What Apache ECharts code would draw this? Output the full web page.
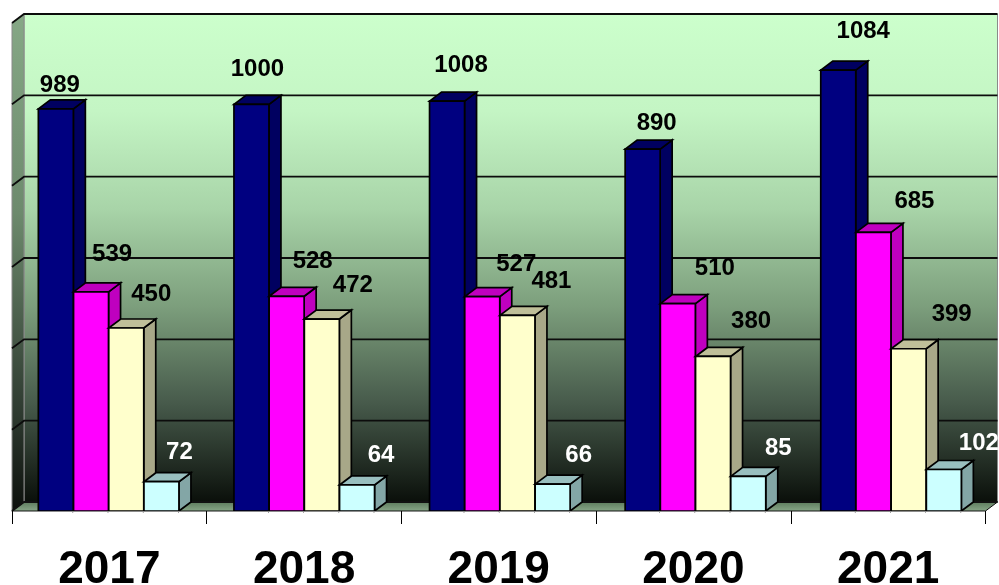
<!DOCTYPE html>
<html>
<head>
<meta charset="utf-8">
<style>html,body{margin:0;padding:0;background:#fff}#c{width:999px;height:585px}</style>
<script src="https://cdn.jsdelivr.net/npm/echarts@6/dist/echarts.min.js"></script>
</head>
<body>
<div id="c"></div>
<script>
const years = ['2017', '2018', '2019', '2020', '2021'];
const seriesA = [989, 1000, 1008, 890, 1084];
const seriesB = [539, 528, 527, 510, 685];
const seriesC = [450, 472, 481, 380, 399];
const seriesD = [72, 64, 66, 85, 102];
const gridTicks = [0, 200, 400, 600, 800, 1000, 1200];

// Hand-placed label shifts from each column's top centre, per series then per year.
const labelShiftA = [[4, -23], [6, -35], [14, -36], [14, -26], [25, -39]];
const labelShiftB = [[21, -37], [26, -35], [34, -32], [37, -35], [41, -31]];
const labelShiftC = [[25, -34], [31, -34], [34, -34], [38, -35], [43, -34]];
const labelShiftD = [[18, -29], [24, -30], [26, -29], [30, -28], [35, -26]];

const DX = 12, DY = -9;          // depth of the 3D extrusion
const BAR_W = 35;
const SLOT_W = 35.2;
const GROUP_LEFT = 71;           // first column's left edge, measured from the category centre
const GROUP_DRIFT = 0.9;         // columns sit slightly wider apart than the axis ticks
const EDGE = '#000';

function poly(points, fill, stroke) {
  return { type: 'polygon', shape: { points }, style: { fill, stroke: stroke || EDGE, lineWidth: 1.7 } };
}

function wallRender(params, api) {
  if (params.dataIndex !== 0) return null;
  const b = params.coordSys;
  const x0 = b.x, x1 = b.x + b.width, yTop = b.y, yBase = b.y + b.height;
  const wallGrad = new echarts.graphic.LinearGradient(0, 0, 0, 1, [
    { offset: 0, color: '#ccffcc' }, { offset: 0.2, color: '#c4f5c4' },
    { offset: 0.4, color: '#a8d4a8' }, { offset: 0.6, color: '#7c9e7c' },
    { offset: 0.8, color: '#46594a' }, { offset: 1, color: '#0a0f0a' }
  ]);
  const sideGrad = new echarts.graphic.LinearGradient(0, 0, 0, 1, [
    { offset: 0, color: '#86a886' }, { offset: 0.4, color: '#6d8a6d' },
    { offset: 0.8, color: '#2e3a30' }, { offset: 1, color: '#0c100c' }
  ]);
  const floorGrad = new echarts.graphic.LinearGradient(0, 0, 0, 1, [
    { offset: 0, color: '#5c7a5c' }, { offset: 1, color: '#8aa88a' }
  ]);
  const children = [
    { type: 'polygon', shape: { points: [[x0 + DX, yTop + DY], [x1 + DX, yTop + DY], [x1 + DX, yBase + DY], [x0 + DX, yBase + DY]] },
      style: { fill: wallGrad, stroke: '#8a8a8a', lineWidth: 1 } },
    { type: 'polygon', shape: { points: [[x0, yTop], [x0 + DX, yTop + DY], [x0 + DX, yBase + DY], [x0, yBase]] },
      style: { fill: sideGrad, stroke: '#8a8a8a', lineWidth: 1 } },
    { type: 'polygon', shape: { points: [[x0, yBase], [x0 + DX, yBase + DY], [x1 + DX, yBase + DY], [x1, yBase]] },
      style: { fill: floorGrad, stroke: '#111', lineWidth: 1 } }
  ];
  gridTicks.forEach(t => {
    const y = api.coord([0, t])[1];
    children.push({ type: 'polyline', shape: { points: [[x0, y], [x0 + DX, y + DY], [x1 + DX, y + DY]] },
      style: { fill: 'none', stroke: t === 0 ? '#111' : '#0c0c0c', lineWidth: 1.8 } });
  });
  return { type: 'group', children, silent: true };
}

function barRender(slot, front, top, side, shifts, labelColor) {
  return function (params, api) {
    const cat = api.value(0), val = api.value(1);
    const base = api.coord([cat, 0]);
    const tip = api.coord([cat, val]);
    const x0 = base[0] - GROUP_LEFT + cat * GROUP_DRIFT + slot * SLOT_W;
    const x1 = x0 + BAR_W;
    const y0 = tip[1], y1 = base[1];
    const shift = shifts[params.dataIndex];
    return {
      type: 'group',
      children: [
        poly([[x1, y0], [x1 + DX, y0 + DY], [x1 + DX, y1 + DY], [x1, y1]], side),
        poly([[x0, y0], [x0 + DX, y0 + DY], [x1 + DX, y0 + DY], [x1, y0]], top),
        poly([[x0, y0], [x1, y0], [x1, y1], [x0, y1]], front),
        { type: 'text', z2: 50,
          style: { x: (x0 + x1) / 2 + shift[0], y: y0 + shift[1], text: String(val),
            fill: labelColor, font: 'bold 24px "Liberation Sans", Arial, sans-serif',
            align: 'center', verticalAlign: 'middle' } }
      ]
    };
  };
}

function barSeries(values, slot, front, top, side, shifts, labelColor) {
  return {
    type: 'custom', coordinateSystem: 'cartesian2d', z: 5 + slot,
    renderItem: barRender(slot, front, top, side, shifts, labelColor),
    encode: { x: 0, y: 1 },
    data: values.map((v, i) => [i, v])
  };
}

const chart = echarts.init(document.getElementById('c'), null, { renderer: 'canvas' });
chart.setOption({
  animation: false,
  backgroundColor: '#fff',
  grid: { left: 12, top: 23, width: 973.5, height: 488, containLabel: false, outerBoundsMode: 'none' },
  xAxis: {
    type: 'category', data: years,
    axisLine: { show: true, lineStyle: { color: '#8c8c8c', width: 1 } },
    axisTick: { show: true, alignWithLabel: false, length: 13, lineStyle: { color: '#000', width: 1 } },
    axisLabel: { color: '#000', fontFamily: '"Liberation Sans", Arial, sans-serif', fontWeight: 'bold', fontSize: 46, margin: 36 },
    z: 20
  },
  yAxis: { type: 'value', min: 0, max: 1200, interval: 200, show: false },
  series: [
    { type: 'custom', coordinateSystem: 'cartesian2d', z: 1, renderItem: wallRender,
      encode: { x: 0, y: 1 }, data: [[0, 0]], silent: true },
    barSeries(seriesA, 0, '#000080', '#000060', '#000060', labelShiftA, '#000'),
    barSeries(seriesB, 1, '#ff00ff', '#bf00bf', '#bf00bf', labelShiftB, '#000'),
    barSeries(seriesC, 2, '#ffffcc', '#bfbf99', '#a8a888', labelShiftC, '#000'),
    barSeries(seriesD, 3, '#ccffff', '#99bfbf', '#83a6a6', labelShiftD, '#fff')
  ]
});
</script>
</body>
</html>
